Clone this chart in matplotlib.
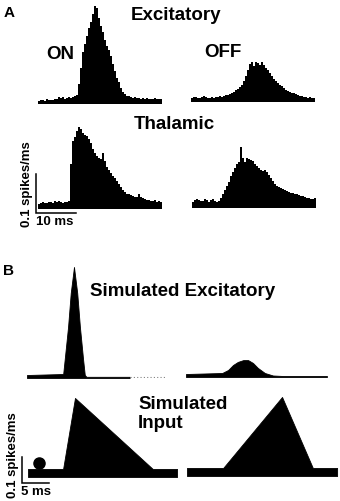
import numpy as np
import matplotlib.pyplot as plt

plt.rcParams['font.family'] = ['Liberation Sans', 'DejaVu Sans']
plt.rcParams['font.weight'] = 'bold'

# Data: PSTHs, 0.5 ms bins, spikes/ms
bin_ms = 0.5
exc_on = [.008, .010, .010, .008, .013, .010, .010, .010, .013, .013,
          .018, .015, .018, .013, .015, .018, .015, .018, .021, .023,
          .051, .092, .133, .154, .174, .195, .210, .231, .251, .246,
          .221, .200, .185, .164, .149, .138, .123, .103, .085, .067,
          .056, .041, .031, .026, .021, .021, .018, .015, .018, .015,
          .015, .013, .015, .013, .015, .013, .013, .013, .015, .013,
          .013, .013]
exc_off = [.010, .013, .013, .010, .010, .013, .015, .013, .010, .010,
           .013, .010, .013, .013, .015, .013, .015, .018, .018, .021,
           .023, .026, .031, .033, .038, .044, .054, .067, .082, .097,
           .103, .092, .103, .100, .095, .103, .095, .087, .082, .074,
           .067, .059, .054, .049, .044, .041, .036, .031, .028, .026,
           .023, .023, .021, .018, .015, .015, .013, .013, .010, .013,
           .010, .010]
thal_on = [.013, .015, .018, .015, .015, .018, .018, .015, .021, .018,
           .021, .018, .015, .018, .018, .021, .115, .174, .185, .200,
           .210, .205, .195, .190, .187, .179, .169, .154, .144, .136,
           .131, .128, .144, .123, .108, .100, .092, .085, .079, .072,
           .064, .056, .049, .044, .038, .038, .036, .033, .031, .031,
           .038, .031, .028, .026, .023, .023, .021, .021, .023, .018,
           .021, .018, .015]
thal_off = [.015, .021, .023, .021, .018, .018, .023, .021, .015, .021,
            .023, .018, .015, .018, .026, .036, .046, .056, .067, .082,
            .092, .103, .113, .118, .156, .128, .118, .128, .126, .123,
            .121, .113, .108, .103, .097, .095, .097, .092, .085, .077,
            .069, .062, .056, .054, .051, .049, .046, .044, .041, .038,
            .038, .036, .036, .033, .031, .031, .028, .026, .026, .023,
            .023, .026, .023]

# Simulated traces (ms, spikes/ms)
sim_exc_on_t = [0, 6.7, 7.6, 8.1, 8.7, 9.3, 9.8, 10.4, 10.7, 11.0, 19.0]
sim_exc_on_r = [0.0115, 0.0154, 0.196, 0.327, 0.427, 0.327, 0.196, 0.069, 0.0115, 0.0046, 0.0046]
sim_exc_off_t = [0, 6.7, 7.8, 8.7, 9.6, 10.6, 11.5, 12.4, 13.3, 14.6, 16.1, 18.0, 26.1]
sim_exc_off_r = [0.0115, 0.0154, 0.027, 0.046, 0.058, 0.065, 0.065, 0.054, 0.035, 0.0154, 0.0058, 0.0038, 0.0038]
sim_in_on_t = [0, 6.5, 8.7, 23.1, 27.6]
sim_in_on_r = [0.031, 0.031, 0.304, 0.031, 0.031]
sim_in_off_t = [0, 6.7, 17.6, 23.3, 27.8]
sim_in_off_r = [0.031, 0.031, 0.304, 0.031, 0.031]

W, H = 340, 501
fig = plt.figure(figsize=(W / 100, H / 100), dpi=100)
bg = fig.add_axes([0, 0, 1, 1])
bg.set_xlim(0, W)
bg.set_ylim(H, 0)
bg.axis('off')


def panel(x0, y0, pxms, pxr, t_max=31, r_max=0.3):
    ax = fig.add_axes([x0 / W, (H - y0) / H, t_max * pxms / W, r_max * pxr / H])
    ax.set_xlim(0, t_max)
    ax.set_ylim(0, r_max)
    ax.axis('off')
    ax.patch.set_visible(False)
    return ax


def psth(ax, vals):
    edges = np.arange(len(vals) + 1) * bin_ms
    ax.stairs(vals, edges, fill=True, color='black', lw=0.8)


# Panel A
a1 = panel(38, 104, 4, 390)
psth(a1, exc_on)
a2 = panel(191, 102, 4, 390)
psth(a2, exc_off)
a3 = panel(38, 209, 4, 390)
psth(a3, thal_on)
a4 = panel(192, 208, 4, 390)
psth(a4, thal_off)

# scale bar A: 10 ms, 0.1 spikes/ms
a3.plot([-0.6, -0.6, 9.4], [0.09, -0.01, -0.01], color='black', lw=1.1,
        clip_on=False, solid_joinstyle='miter')

# Panel B
b1 = panel(27, 378, 5.4, 260, t_max=26, r_max=0.45)
b1.fill_between(sim_exc_on_t, sim_exc_on_r, color='black', lw=0.6)
b1.plot([19.0, 25.5], [0.003, 0.003], color='0.5', lw=0.8, ls=(0, (1, 2)))
b2 = panel(186, 377, 5.4, 260, t_max=28, r_max=0.45)
b2.fill_between(sim_exc_off_t, sim_exc_off_r, color='black', lw=0.6)
b3 = panel(28, 477, 5.4, 260, t_max=28, r_max=0.35)
b3.fill_between(sim_in_on_t, sim_in_on_r, color='black', lw=0.6)
b4 = panel(187, 476, 5.4, 260, t_max=28, r_max=0.35)
b4.fill_between(sim_in_off_t, sim_in_off_r, color='black', lw=0.6)

# stimulus dot and scale bar B: 5 ms, 0.1 spikes/ms
b3.plot([2.0], [0.054], 'o', color='black', ms=8, clip_on=False)
b3.plot([-1.1, -1.1, 3.9], [0.077, -0.023, -0.023], color='black', lw=1.1,
        clip_on=False, solid_joinstyle='miter')

# Labels
fs = 13.5
bg.text(9, 13, 'A', fontsize=11, ha='center', va='center')
bg.text(176, 15, 'Excitatory', fontsize=fs, ha='center', va='center')
bg.text(60, 54, 'ON', fontsize=fs, ha='center', va='center')
bg.text(223, 52, 'OFF', fontsize=fs, ha='center', va='center')
bg.text(174, 124, 'Thalamic', fontsize=fs, ha='center', va='center')
bg.text(55, 222, '10 ms', fontsize=9.5, ha='center', va='center')
bg.text(27, 184, '0.1 spikes/ms', fontsize=9.5, ha='center', va='center', rotation=90)

bg.text(8, 271, 'B', fontsize=11, ha='center', va='center')
bg.text(183, 292, 'Simulated Excitatory', fontsize=fs, ha='center', va='center')
bg.text(138, 414, 'Simulated\nInput', fontsize=fs, ha='left', va='center',
        linespacing=1.2)
bg.text(36, 492, '5 ms', fontsize=9.5, ha='center', va='center')
bg.text(13, 455, '0.1 spikes/ms', fontsize=9.5, ha='center', va='center', rotation=90)

fig.savefig('out.png', dpi=100)
